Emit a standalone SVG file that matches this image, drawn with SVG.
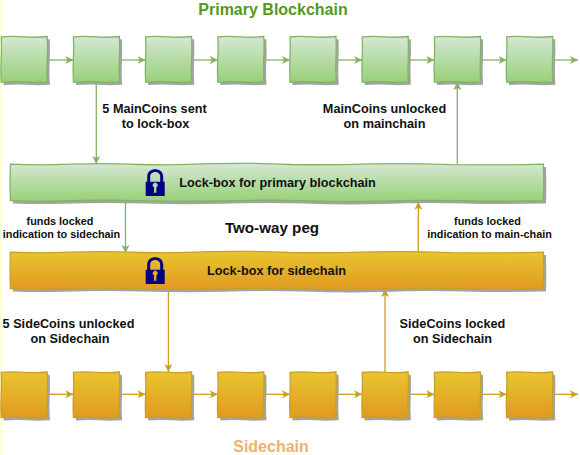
<svg xmlns="http://www.w3.org/2000/svg" xmlns:xlink="http://www.w3.org/1999/xlink" width="580" height="455" viewBox="0 0 580 455">
<defs>
<linearGradient id="g" x1="0" y1="0" x2="0" y2="1"><stop offset="0" stop-color="#d5e8d4"/><stop offset="1" stop-color="#97d077"/></linearGradient>
<linearGradient id="o" x1="0" y1="0" x2="0" y2="1"><stop offset="0" stop-color="#e9c52f"/><stop offset="1" stop-color="#df9a20"/></linearGradient>
<filter id="s" x="-20%" y="-20%" width="140%" height="140%"><feGaussianBlur stdDeviation="0.7"/></filter>
<marker id="ag" markerUnits="userSpaceOnUse" markerWidth="9" markerHeight="9" refX="8" refY="4" orient="auto"><path d="M0 0L8 4L0 8L2 4Z" fill="#82b366"/></marker>
<marker id="ao" markerUnits="userSpaceOnUse" markerWidth="9" markerHeight="9" refX="8" refY="4" orient="auto"><path d="M0 0L8 4L0 8L2 4Z" fill="#c9a023"/></marker>
<path id="box" d="M0 .3Q11 -.7 23 .3T46 0Q46.600 11 46 22T46.200 45.500Q34 46.200 23 45.500T0 45.700Q-.6 34 0 22T0 .3Z"/>
<path id="bar" d="M0 0Q30 1.200 60 0Q95 -1.200 130 .3Q165 1.300 200 -.5Q240 -1.500 280 .3Q320 1 360 -.3Q400 -1.200 440 .5Q490 1.200 533 0Q533.600 18 533 36.500Q490 37.500 450 36.500Q410 35.500 370 37Q330 38 290 36.500Q250 35.500 210 36.800Q170 37.700 130 36.500Q90 35.500 50 36.800Q25 37.500 0 36.500Q-.6 18 0 0Z"/>
<path id="lock" d="M-8 -2.300V-7.500C-8 -17.300 8 -17.300 8 -7.500V-2.300H9.500V12H-9.500V-2.300ZM-5 -2.300H5V-7.500C5 -13.600 -5 -13.600 -5 -7.500ZM-1.200 3.300V8.800H1.200V3.300A2.400 2.400 0 1 0 -1.200 3.300Z" fill="#000080" fill-rule="evenodd"/>
</defs>
<style>
.t{font-family:"Liberation Sans",Arial,sans-serif;font-weight:700;fill:#111;text-anchor:middle}
.m{font-size:12.700px}.n{font-size:10.850px}
.sh{fill:#a3a3a3}
.gb{fill:url(#g);stroke:#82b366;stroke-width:1.300}
.ob{fill:url(#o);stroke:#c9a023;stroke-width:1.300}
.gl{fill:none;stroke:#82b366;stroke-width:1.300;marker-end:url(#ag)}
.ol{fill:none;stroke:#c9a023;stroke-width:1.300;marker-end:url(#ao)}
</style>
<rect width="580" height="455" fill="#fff"/>
<rect width="1.700" height="455" fill="#ffffd0"/>
<g id="connectors">
<path class="gl" d="M47.500 60H73.400"/><path class="gl" d="M119.500 60H145.600"/><path class="gl" d="M191.500 60H217.800"/><path class="gl" d="M264 60H290"/><path class="gl" d="M336 60H362.200"/><path class="gl" d="M408 60H434.400"/><path class="gl" d="M480.400 60H506.600"/><path class="gl" d="M552.600 60H578"/>
<path class="gl" d="M96.300 82V164"/><path class="gl" d="M457.300 164V82"/>
<path class="gl" d="M125.500 201V253"/><path class="ol" d="M418.300 252V201.700"/>
<path class="ol" d="M168.400 288V372"/><path class="ol" d="M385 372V289"/>
<path class="ol" d="M47.400 394.300H73.400"/><path class="ol" d="M119.500 394.300H145.600"/><path class="ol" d="M191.600 394.300H217.800"/><path class="ol" d="M264 394.300H290"/><path class="ol" d="M336 394.300H362.200"/><path class="ol" d="M408 394.300H434.400"/><path class="ol" d="M480.400 394.300H506.600"/><path class="ol" d="M552.600 394.300H578"/>
</g>
<g id="p1"><use href="#box" xlink:href="#box" class="sh" filter="url(#s)" x="3.700" y="39.300"/><use href="#box" xlink:href="#box" class="gb" x="1.200" y="36.500"/></g>
<g id="p2"><use href="#box" xlink:href="#box" class="sh" filter="url(#s)" x="75.900" y="39.300"/><use href="#box" xlink:href="#box" class="gb" x="73.400" y="36.500"/></g>
<g id="p3"><use href="#box" xlink:href="#box" class="sh" filter="url(#s)" x="148.100" y="39.300"/><use href="#box" xlink:href="#box" class="gb" x="145.600" y="36.500"/></g>
<g id="p4"><use href="#box" xlink:href="#box" class="sh" filter="url(#s)" x="220.300" y="39.300"/><use href="#box" xlink:href="#box" class="gb" x="217.800" y="36.500"/></g>
<g id="p5"><use href="#box" xlink:href="#box" class="sh" filter="url(#s)" x="292.500" y="39.300"/><use href="#box" xlink:href="#box" class="gb" x="290" y="36.500"/></g>
<g id="p6"><use href="#box" xlink:href="#box" class="sh" filter="url(#s)" x="364.700" y="39.300"/><use href="#box" xlink:href="#box" class="gb" x="362.200" y="36.500"/></g>
<g id="p7"><use href="#box" xlink:href="#box" class="sh" filter="url(#s)" x="436.900" y="39.300"/><use href="#box" xlink:href="#box" class="gb" x="434.400" y="36.500"/></g>
<g id="p8"><use href="#box" xlink:href="#box" class="sh" filter="url(#s)" x="509.100" y="39.300"/><use href="#box" xlink:href="#box" class="gb" x="506.600" y="36.500"/></g>
<g id="lockbox-primary"><use href="#bar" xlink:href="#bar" class="sh" filter="url(#s)" x="13" y="167"/><use href="#bar" xlink:href="#bar" class="gb" x="10.400" y="164.200"/><use xlink:href="#lock" href="#lock" x="155.200" y="184"/><text class="t m" x="277.500" y="187">Lock-box for primary blockchain</text></g>
<g id="lockbox-side"><use href="#bar" xlink:href="#bar" class="sh" filter="url(#s)" x="13" y="255"/><use href="#bar" xlink:href="#bar" class="ob" x="10.400" y="252.200"/><use xlink:href="#lock" href="#lock" x="155.200" y="272"/><text class="t m" x="276.500" y="275">Lock-box for sidechain</text></g>
<g id="s1"><use href="#box" xlink:href="#box" class="sh" filter="url(#s)" x="3.700" y="374.800"/><use href="#box" xlink:href="#box" class="ob" x="1.200" y="372"/></g>
<g id="s2"><use href="#box" xlink:href="#box" class="sh" filter="url(#s)" x="75.900" y="374.800"/><use href="#box" xlink:href="#box" class="ob" x="73.400" y="372"/></g>
<g id="s3"><use href="#box" xlink:href="#box" class="sh" filter="url(#s)" x="148.100" y="374.800"/><use href="#box" xlink:href="#box" class="ob" x="145.600" y="372"/></g>
<g id="s4"><use href="#box" xlink:href="#box" class="sh" filter="url(#s)" x="220.300" y="374.800"/><use href="#box" xlink:href="#box" class="ob" x="217.800" y="372"/></g>
<g id="s5"><use href="#box" xlink:href="#box" class="sh" filter="url(#s)" x="292.500" y="374.800"/><use href="#box" xlink:href="#box" class="ob" x="290" y="372"/></g>
<g id="s6"><use href="#box" xlink:href="#box" class="sh" filter="url(#s)" x="364.700" y="374.800"/><use href="#box" xlink:href="#box" class="ob" x="362.200" y="372"/></g>
<g id="s7"><use href="#box" xlink:href="#box" class="sh" filter="url(#s)" x="436.900" y="374.800"/><use href="#box" xlink:href="#box" class="ob" x="434.400" y="372"/></g>
<g id="s8"><use href="#box" xlink:href="#box" class="sh" filter="url(#s)" x="509.100" y="374.800"/><use href="#box" xlink:href="#box" class="ob" x="506.600" y="372"/></g>
<g id="labels">
<text class="t" x="273" y="15" font-size="16" style="fill:#4f9a1f">Primary Blockchain</text>
<text class="t" x="271" y="452" font-size="16" style="fill:#eeb26c">Sidechain</text>
<text class="t" x="272" y="233" font-size="15.200">Two-way peg</text>
<text class="t m" x="154.500" y="112.500">5 MainCoins sent</text><text class="t m" x="155.500" y="127.500">to lock-box</text>
<text class="t m" x="384.500" y="112.500">MainCoins unlocked</text><text class="t m" x="384.500" y="127.500">on mainchain</text>
<text class="t n" x="60" y="225">funds locked</text><text class="t n" x="61.500" y="238">indication to sidechain</text>
<text class="t n" x="487.500" y="225">funds locked</text><text class="t n" x="489.500" y="238">indication to main-chain</text>
<text class="t m" x="68.500" y="328">5 SideCoins unlocked</text><text class="t m" x="70" y="342.500">on Sidechain</text>
<text class="t m" x="452.500" y="328">SideCoins locked</text><text class="t m" x="452.500" y="342.500">on Sidechain</text>
</g>
</svg>
